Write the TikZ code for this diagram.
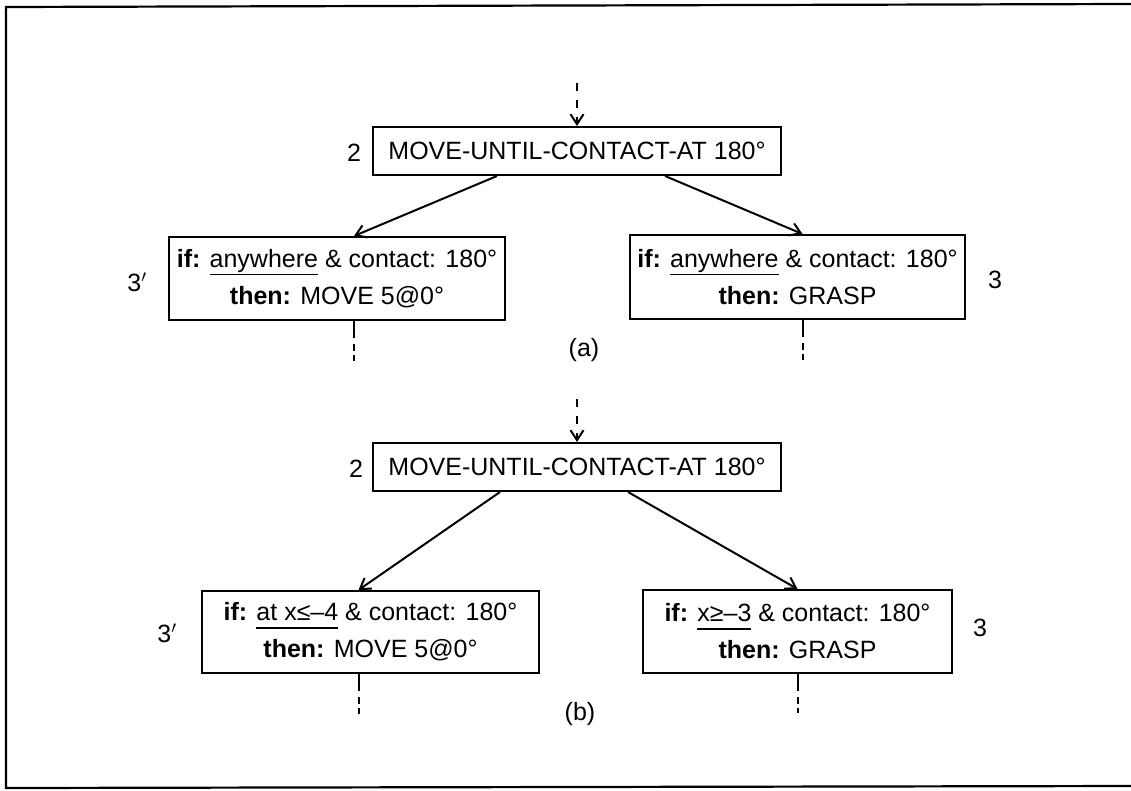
\documentclass[tikz,border=0pt]{standalone}
\usepackage{fontspec}
\setmainfont{Liberation Sans}
\usetikzlibrary{arrows.meta}
\newcommand\myfs{\fontsize{25}{37}\selectfont}
\newsavebox\myulbox
\newcommand\myul[1]{\sbox\myulbox{#1}\rlap{\rule[-8pt]{\wd\myulbox}{1.8pt}}\usebox\myulbox}
\begin{document}
\begin{tikzpicture}[x=1pt,y=-1pt,
  box/.style={draw, line width=2pt, inner sep=0pt, align=center, font=\myfs},
  lbl/.style={font=\myfs, inner sep=0pt},
  arr/.style={line width=2pt, -{Straight Barb[length=10pt,width=13pt]}},
  into/.style={line width=2pt, dash pattern=on 8pt off 9pt, -{Straight Barb[length=10pt,width=13pt]}},
  cont/.style={line width=2pt, dash pattern=on 17pt off 6pt on 7pt off 4pt on 6pt}]
\useasboundingbox (0,0) rectangle (1131,790);
\draw[line width=2.2pt] (1131,4) -- (6,7) -- (6,788) -- (1131,786);

% ---------- (a) ----------
\node[box, minimum width=408pt, minimum height=48pt] (m2a) at (577,151) {MOVE-UNTIL-CONTACT-AT 180°};
\node[lbl] (l2a) at (354,153) {2};
\coordinate (s2a) at (577,83);
\draw[into] (s2a) -- (m2a.north);

\node[box, minimum width=336pt, minimum height=83pt] (r3pa) at (337,278.5)
  {\textbf{if:} \myul{anywhere} \& contact: 180°\\\textbf{then:} MOVE 5@0°};
\node[box, minimum width=335pt, minimum height=84pt] (r3a) at (797.5,277)
  {\textbf{if:} \myul{anywhere} \& contact: 180°\\\textbf{then:} GRASP};
\node[lbl] (l3pa) at (137,282) {3$'$};
\node[lbl] (l3a) at (995,280) {3};

\draw[arr] ([xshift=-80pt]m2a.south) -- ([xshift=17pt]r3pa.north);
\draw[arr] ([xshift=88pt]m2a.south) -- ([xshift=5pt]r3a.north);

\coordinate (e3pa) at ([xshift=17pt,yshift=-40pt]r3pa.south);
\coordinate (e3a) at ([xshift=5pt,yshift=-40pt]r3a.south);
\draw[cont] ([xshift=17pt]r3pa.south) -- (e3pa);
\draw[cont] ([xshift=5pt]r3a.south) -- (e3a);

\node[lbl] (capa) at (584,350) {(a)};

% ---------- (b) ----------
\node[box, minimum width=408pt, minimum height=48pt] (m2b) at (577,467) {MOVE-UNTIL-CONTACT-AT 180°};
\node[lbl] (l2b) at (356,469) {2};
\coordinate (s2b) at (577,399);
\draw[into] (s2b) -- (m2b.north);

\node[box, minimum width=337pt, minimum height=82pt] (r3pb) at (370.5,632)
  {\textbf{if:} \myul{at x≤–4} \& contact: 180°\\\textbf{then:} MOVE 5@0°};
\node[box, minimum width=309pt, minimum height=83pt] (r3b) at (797.5,631.5)
  {\textbf{if:} \myul{x≥–3} \& contact: 180°\\\textbf{then:} GRASP};
\node[lbl] (l3pb) at (167,633) {3$'$};
\node[lbl] (l3b) at (980,628) {3};

\draw[arr] ([xshift=-77pt]m2b.south) -- ([xshift=-12pt]r3pb.north);
\draw[arr] ([xshift=51pt]m2b.south) -- (r3b.north);

\coordinate (e3pb) at ([xshift=-12pt,yshift=-42pt]r3pb.south);
\coordinate (e3b) at ([yshift=-39pt]r3b.south);
\draw[cont] ([xshift=-12pt]r3pb.south) -- (e3pb);
\draw[cont] (r3b.south) -- (e3b);

\node[lbl] (capb) at (580,714) {(b)};
\end{tikzpicture}
\end{document}
